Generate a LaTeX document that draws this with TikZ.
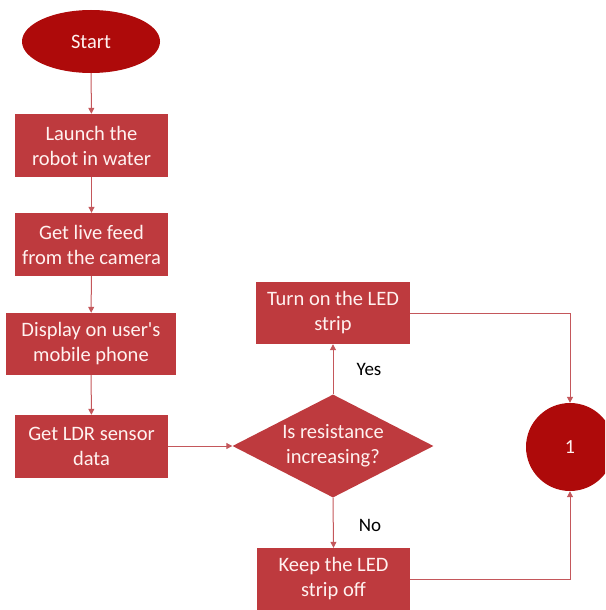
\documentclass[tikz,border=0pt]{standalone}
\usepackage{fontspec}
\setmainfont{Carlito}
\usetikzlibrary{shapes.geometric,arrows.meta}
\definecolor{boxred}{HTML}{BE3A3E}
\definecolor{darkred}{HTML}{AE0A0A}
\definecolor{linered}{HTML}{C4575B}
\definecolor{boxtext}{HTML}{FFF2F0}
\tikzset{
  procbox/.style={rectangle, fill=boxred, draw=none, minimum width=153pt, minimum height=63pt, inner sep=0pt, align=center, text=boxtext, font=\fontsize{20.5}{25}\selectfont},
  termshape/.style={ellipse, fill=darkred, draw=none, minimum width=138pt, minimum height=63pt, inner sep=0pt, text=boxtext, font=\fontsize{20.5}{25}\selectfont},
  decshape/.style={diamond, fill=boxred, draw=none, minimum width=201pt, minimum height=103pt, inner sep=0pt, aspect=1.95},
  dectext/.style={align=center, text=boxtext, font=\fontsize{20.5}{25}\selectfont, inner sep=0pt},
  connshape/.style={circle, fill=darkred, draw=none, minimum size=88pt, inner sep=0pt, text=boxtext, font=\fontsize{20}{24}\selectfont},
  lbl/.style={text=black, font=\fontsize{19}{22}\selectfont, inner sep=0pt},
  conn/.style={draw=linered, line width=1pt, -{Triangle[length=6pt,width=6pt]}}
}
\begin{document}
\begin{tikzpicture}[x=1pt,y=-1pt]
\useasboundingbox (0,0) rectangle (605,610);
\clip (0,0) rectangle (605,610);
\node[termshape] (start) at (91,41.5) {Start};
\node[procbox] (b1) at (91.5,145.5) {Launch the\\robot in water};
\node[procbox] (b2) at (91.5,244.5) {Get live feed\\from the camera};
\node[procbox, minimum width=170pt, minimum height=62pt] (b3) at (91,344) {Display on user\textquotesingle s\\mobile phone};
\node[procbox] (b4) at (91.5,446.5) {Get LDR sensor\\data};
\node[decshape] (dec) at (333,446) {};
\node[dectext] (dect) at (333,446) {Is resistance\\increasing?};
\node[procbox, minimum width=154pt, minimum height=62pt] (on) at (333,313) {Turn on the LED\\strip};
\node[procbox, minimum height=62pt] (off) at (333.5,579) {Keep the LED\\strip off};
\node[connshape] (one) at (570,447) {1};
\node[lbl] (yes) at (369,369) {Yes};
\node[lbl] (no) at (370,525) {No};
\draw[conn] (start) -- (b1);
\draw[conn] (b1) -- (b2);
\draw[conn] (b2) -- (b3);
\draw[conn] (b3) -- (b4);
\draw[conn] (b4.east |- dec.west) -- (dec.west);
\draw[conn] (dec.north) -- (on.south);
\draw[conn] (dec.south) -- (off.north);
\draw[conn] (on.east) -| (one.north);
\draw[conn] (off.east) -| (one.south);
\end{tikzpicture}
\end{document}
